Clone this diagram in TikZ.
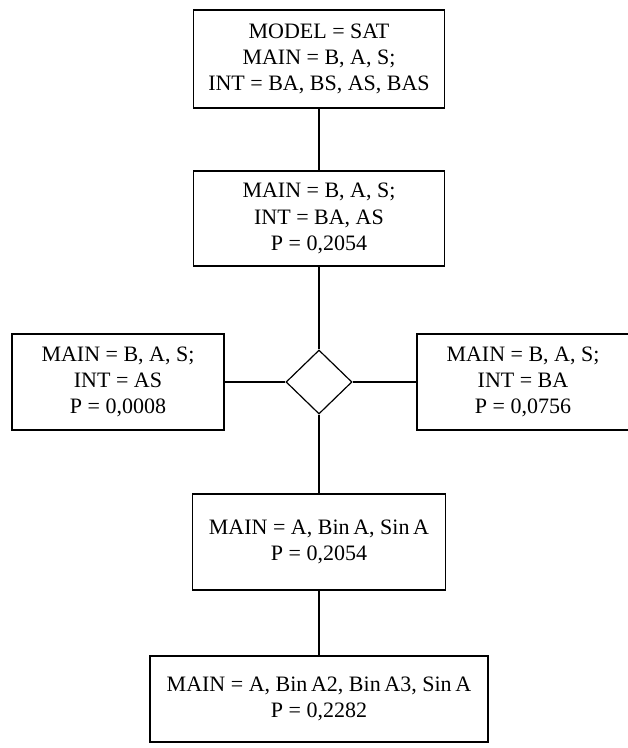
\documentclass[tikz,border=0pt]{standalone}
\usepackage{fontspec}
\setmainfont{Liberation Serif}
\usetikzlibrary{shapes.geometric}
\begin{document}
\begin{tikzpicture}[x=1pt,y=1pt,
  every node/.style={font=\fontsize{22}{26.3}\selectfont},
  box/.style={draw, line width=1.2pt, align=center, inner sep=0pt},
  link/.style={line width=1.2pt}]
\useasboundingbox (0,0) rectangle (628,-748);
\node[box, minimum width=251pt, minimum height=98pt] (b1) at (319,-59)
  {MODEL = SAT\\MAIN = B, A, S;\\INT = BA, BS, AS, BAS};
\node[box, minimum width=251pt, minimum height=95pt] (b2) at (319,-218.5)
  {MAIN = B, A, S;\\INT = BA, AS\\P = 0,2054};
\node[draw, line width=1.2pt, diamond, aspect=1, minimum width=66pt, minimum height=64pt, inner sep=0pt] (d) at (319,-382) {};
\node[box, minimum width=212pt, minimum height=96pt] (l) at (118,-382)
  {MAIN = B, A, S;\\INT = AS\\P = 0,0008};
\node[box, minimum width=212pt, minimum height=96pt] (r) at (523,-382)
  {MAIN = B, A, S;\\INT = BA\\P = 0,0756};
\node[box, minimum width=253pt, minimum height=96pt] (b4) at (319,-542)
  {MAIN = A, Bin\,A, Sin\,A\\P = 0,2054};
\node[box, minimum width=338pt, minimum height=86pt] (b5) at (319,-699)
  {MAIN = A, Bin\,A2, Bin\,A3, Sin\,A\\P = 0,2282};
\draw[link] (b1.south) -- (b2.north);
\draw[link] (b2.south) -- (d.north);
\draw[link] (d.west) -- (l.east);
\draw[link] (d.east) -- (r.west);
\draw[link] (d.south) -- (b4.north);
\draw[link] (b4.south) -- (b5.north);
\end{tikzpicture}
\end{document}
